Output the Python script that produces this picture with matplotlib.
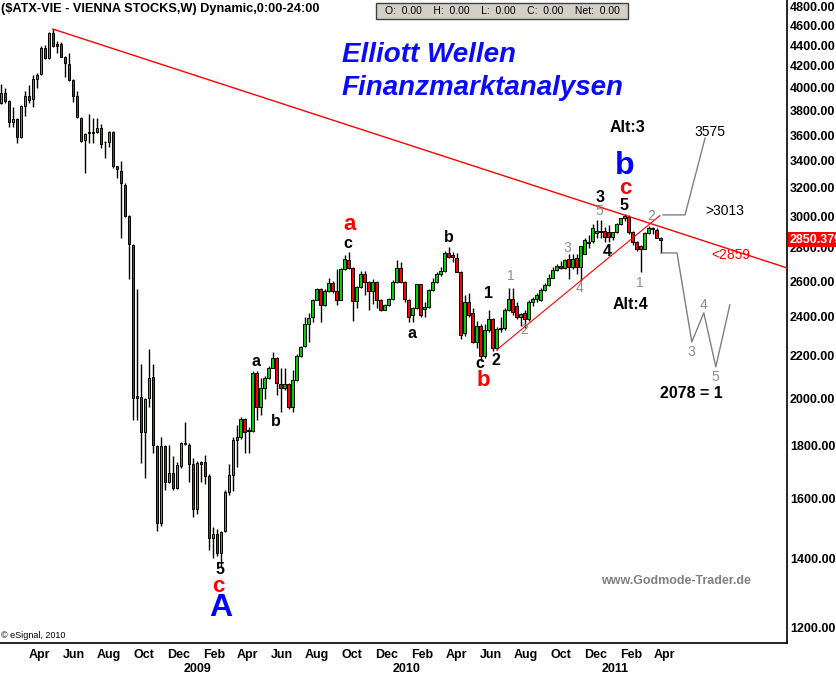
import numpy as np
import pandas as pd
import matplotlib
matplotlib.use("Agg")
import matplotlib.pyplot as plt
from matplotlib.ticker import FixedLocator, NullLocator, FuncFormatter
from matplotlib.patches import Rectangle
import matplotlib.transforms as mtransforms

plt.rcParams['font.family'] = ['Liberation Sans', 'DejaVu Sans']

# ---------------- data (weekly OHLC, ATX) ----------------
first_week = "2008-01-28"
opens = [3866, 3954, 3883, 3707, 3731, 3585, 3840, 3927, 3900, 4079,
         4125, 4371, 4274, 4519, 4410, 4410, 4284, 4216, 4070, 3927,
         3740, 3561, 3617, 3620, 3625, 3657, 3548, 3545, 3625, 3360,
         3322, 3221, 3006, 2818, 2004, 2008, 1858, 2004, 2100, 1800,
         1517, 1800, 1662, 1695, 1640, 1722, 1812, 1804, 1730, 1565,
         1735, 1735, 1685, 1467, 1480, 1418, 1490, 1625, 1688, 1825,
         1837, 1912, 1866, 1862, 2119, 1964, 2050, 2095, 2143, 2190,
         2068, 2050, 2068, 1964, 2086, 2200, 2250, 2365, 2400, 2494,
         2555, 2465, 2540, 2590, 2540, 2493, 2671, 2725, 2676, 2488,
         2566, 2643, 2597, 2543, 2597, 2493, 2438, 2465, 2500, 2597,
         2676, 2597, 2493, 2410, 2450, 2580, 2445, 2455, 2550, 2597,
         2640, 2660, 2768, 2755, 2737, 2653, 2316, 2482, 2420, 2270,
         2350, 2200, 2330, 2390, 2240, 2337, 2340, 2440, 2500, 2460,
         2400, 2420, 2390, 2482, 2500, 2493, 2549, 2575, 2620, 2665,
         2688, 2675, 2730, 2680, 2735, 2680, 2762, 2830, 2840, 2895,
         2905, 2905, 2900, 2870, 2900, 2952, 2990, 3000, 2900, 2835,
         2810, 2795, 2893, 2926, 2913, 2862]
highs = [4034, 3998, 3890, 3832, 3740, 3850, 3971, 4025, 4116, 4134,
         4390, 4400, 4530, 4560, 4440, 4430, 4290, 4322, 4075, 3971,
         3745, 3615, 3773, 3740, 3740, 3690, 3553, 3630, 3630, 3362,
         3400, 3236, 3010, 2822, 2555, 2162, 2005, 2235, 2162, 1805,
         1837, 1804, 1804, 1760, 1737, 1815, 1900, 1812, 1752, 1740,
         1740, 1765, 1690, 1503, 1497, 1490, 1630, 1730, 1837, 1885,
         1920, 1916, 1878, 2125, 2125, 2095, 2103, 2150, 2220, 2195,
         2143, 2143, 2072, 2130, 2210, 2250, 2400, 2420, 2500, 2560,
         2562, 2555, 2620, 2600, 2671, 2676, 2755, 2774, 2680, 2570,
         2660, 2660, 2600, 2610, 2600, 2500, 2470, 2505, 2605, 2725,
         2710, 2600, 2500, 2455, 2585, 2585, 2480, 2555, 2620, 2650,
         2680, 2780, 2805, 2775, 2768, 2660, 2520, 2530, 2450, 2380,
         2360, 2360, 2440, 2395, 2345, 2400, 2450, 2560, 2560, 2480,
         2420, 2440, 2490, 2510, 2530, 2560, 2590, 2640, 2680, 2700,
         2720, 2730, 2760, 2760, 2760, 2800, 2860, 2880, 2950, 2979,
         2979, 2935, 2945, 2900, 2960, 2990, 3020, 3013, 2905, 2840,
         2820, 2900, 2940, 2935, 2925, 2865]
lows = [3860, 3866, 3665, 3666, 3538, 3575, 3756, 3866, 3832, 3998,
        4116, 4265, 4265, 4380, 4322, 4280, 4098, 4060, 3875, 3740,
        3545, 3310, 3537, 3537, 3620, 3500, 3420, 3505, 3345, 3272,
        2862, 3000, 2612, 1908, 1908, 1733, 1677, 1964, 1772, 1490,
        1505, 1632, 1658, 1632, 1635, 1715, 1804, 1662, 1537, 1548,
        1660, 1655, 1428, 1402, 1408, 1375, 1485, 1615, 1628, 1718,
        1830, 1772, 1772, 1858, 1908, 1930, 2000, 2090, 2140, 2018,
        1943, 2040, 1955, 1943, 2080, 2195, 2245, 2270, 2373, 2490,
        2373, 2460, 2535, 2530, 2465, 2490, 2665, 2670, 2378, 2450,
        2560, 2520, 2438, 2470, 2450, 2430, 2435, 2460, 2495, 2590,
        2590, 2480, 2373, 2373, 2445, 2400, 2400, 2450, 2540, 2590,
        2630, 2655, 2737, 2715, 2650, 2285, 2300, 2400, 2265, 2240,
        2175, 2190, 2320, 2225, 2230, 2320, 2330, 2430, 2410, 2390,
        2350, 2340, 2380, 2460, 2480, 2485, 2545, 2570, 2615, 2660,
        2670, 2670, 2610, 2670, 2640, 2600, 2800, 2800, 2830, 2860,
        2860, 2835, 2835, 2850, 2895, 2945, 2975, 2890, 2820, 2780,
        2650, 2790, 2885, 2890, 2860, 2770]
closes = [3954, 3883, 3707, 3731, 3585, 3840, 3927, 3892, 4079, 4116,
          4371, 4274, 4519, 4390, 4390, 4284, 4226, 4070, 3927, 3748,
          3553, 3609, 3625, 3625, 3657, 3530, 3545, 3625, 3360, 3337,
          3236, 3006, 2824, 2004, 2010, 1858, 2000, 2095, 1804, 1517,
          1800, 1662, 1695, 1640, 1726, 1812, 1808, 1730, 1565, 1733,
          1730, 1685, 1467, 1480, 1418, 1487, 1625, 1688, 1825, 1837,
          1912, 1858, 1862, 2119, 1964, 2050, 2095, 2143, 2190, 2072,
          2050, 2068, 1964, 2086, 2200, 2245, 2365, 2394, 2494, 2555,
          2465, 2540, 2590, 2540, 2493, 2671, 2731, 2676, 2488, 2566,
          2643, 2597, 2543, 2597, 2493, 2438, 2465, 2500, 2597, 2676,
          2597, 2500, 2400, 2450, 2580, 2410, 2455, 2550, 2597, 2640,
          2660, 2768, 2743, 2743, 2653, 2305, 2482, 2410, 2270, 2350,
          2200, 2330, 2390, 2240, 2337, 2340, 2440, 2500, 2425, 2400,
          2415, 2390, 2482, 2500, 2520, 2549, 2575, 2620, 2665, 2688,
          2675, 2725, 2680, 2730, 2680, 2811, 2849, 2835, 2926, 2905,
          2900, 2870, 2870, 2900, 2952, 2990, 3005, 2900, 2835, 2795,
          2795, 2893, 2926, 2920, 2862, 2850]
last_price = 2850.379

# trend lines and projected wave path (week index, price)
resist_idx = [13, 196.6]
resist_px = [4560, 2677]
support_idx = [124, 164.8]
support_px = [2230, 3008]
bull_idx = [165.6, 171.1, 176.1]
bull_px = [3013, 3013, 3575]
bear_idx = [165.1, 169.1, 172.8, 175.8, 178.8, 182.3]
bear_px = [2768, 2768, 2270, 2422, 2147, 2465]

y_ticks = list(range(1200, 4801, 200))

# ---------------- figure ----------------
W, H = 836, 676
fig = plt.figure(figsize=(W / 100, H / 100), dpi=100)
ax_r, ax_b = 787, 643
ax = fig.add_axes([0, 1 - ax_b / H, ax_r / W, ax_b / H])

n = len(opens)
idx = np.arange(n)
o = np.array(opens, float); h = np.array(highs, float)
l = np.array(lows, float); c = np.array(closes, float)
up = c >= o

ax.vlines(idx, l, h, color='black', lw=1.0, zorder=2)
bottom = np.minimum(o, c)
height = np.maximum(np.abs(c - o), 1.0)
cols = np.where(up, '#00d000', '#ff0000')
ax.bar(idx, height, bottom=bottom, width=0.62, color=cols,
       edgecolor='black', linewidth=0.7, zorder=3)

ax.set_yscale('log')
ax.set_ylim(1160, 4865)
ax.set_xlim(-0.2, 196.6)

ax.plot(resist_idx, resist_px, color='#ff0000', lw=1.0, zorder=4)
ax.plot(support_idx, support_px, color='#ff0000', lw=0.8, zorder=4)
ax.plot(bull_idx, bull_px, color='#808080', lw=1.0, zorder=4)
ax.plot(bear_idx, bear_px, color='#808080', lw=1.0, zorder=4)

# axes styling
for s in ['left', 'top']:
    ax.spines[s].set_visible(False)
ax.spines['right'].set_linewidth(1.2)
ax.spines['bottom'].set_linewidth(1.2)
ax.yaxis.tick_right()
ax.yaxis.set_major_locator(FixedLocator(y_ticks))
ax.yaxis.set_minor_locator(NullLocator())
ax.yaxis.set_major_formatter(FuncFormatter(lambda v, p: f"{v:.2f}"))
ax.tick_params(axis='y', length=0, pad=2, labelsize=9)
for t in ax.get_yticklabels():
    t.set_fontweight('bold')

d0 = pd.Timestamp(first_week)
months = pd.date_range('2008-04-01', '2011-04-01', freq='2MS')
mpos = [(m - d0).days / 7 + 0.4 for m in months]
ax.xaxis.set_major_locator(FixedLocator(mpos))
ax.set_xticklabels([m.strftime('%b') for m in months], fontsize=9, fontweight='bold')
ax.xaxis.set_minor_locator(NullLocator())
ax.tick_params(axis='x', length=0, pad=4)
trans = mtransforms.blended_transform_factory(ax.transData, ax.transAxes)
for yr in [2009, 2010, 2011]:
    xp = (pd.Timestamp(f'{yr}-01-01') - d0).days / 7 + 0.8
    ax.text(xp, -0.040, str(yr), transform=trans, ha='center', va='center',
            fontsize=9, fontweight='bold', clip_on=False)

# last price tag
ax.text(1.003, last_price, f"{last_price:.3f}",
        transform=mtransforms.blended_transform_factory(ax.transAxes, ax.transData),
        ha='left', va='center', color='white', fontsize=9, fontweight='bold', clip_on=False,
        bbox=dict(boxstyle='square,pad=0.12', fc='#ff0000', ec='none'), zorder=10)


def put(x, y, s, **kw):
    kw.setdefault('ha', 'center')
    kw.setdefault('va', 'center')
    fig.text(x / W, 1 - y / H, s, **kw)


# header
put(1, 9, "($ATX-VIE - VIENNA STOCKS,W) Dynamic,0:00-24:00", ha='left',
    fontsize=9.2, fontweight='bold')
fig.patches.append(Rectangle((376 / W, 1 - 19 / H), 252 / W, 16 / H, transform=fig.transFigure,
                             fc='#d4d0c8', ec='#404040', lw=1.0))
put(502, 11, "O:  0.00    H:  0.00    L:  0.00    C:  0.00    Net:  0.00", fontsize=7.5)

put(342, 55, "Elliott Wellen", ha='left', fontsize=20, fontweight='bold',
    fontstyle='italic', color='#0a0aff')
put(342, 88, "Finanzmarktanalysen", ha='left', fontsize=20, fontweight='bold',
    fontstyle='italic', color='#0a0aff')

# wave labels
blk = dict(fontsize=11.5, fontweight='bold', color='black')
gry = dict(fontsize=10, color='#8c8c8c')
redL = dict(fontsize=16, fontweight='bold', color='#ff0000')
bluL = dict(fontsize=23, fontweight='bold', color='#0000ff')

put(220, 570, "5", **blk)
put(218, 586, "c", **redL)
put(221, 608, "A", **bluL)
put(256, 362, "a", **blk)
put(276, 422, "b", **blk)
put(350, 224, "a", **redL)
put(348, 243, "c", **blk)
put(412, 334, "a", **blk)
put(449, 237, "b", **blk)
put(488, 293, "1", **blk)
put(480, 363, "c", **blk)
put(496, 360, "2", **blk)
put(483, 380, "b", **redL)
put(511, 276, "1", **gry)
put(524, 330, "2", **gry)
put(567, 248, "3", **gry)
put(579, 288, "4", **gry)
put(599, 211, "5", **gry)
put(600, 197, "3", **blk)
put(624, 206, "5", **blk)
put(625, 188, "c", **redL)
put(625, 166, "b", **bluL)
put(607, 252, "4", **blk)
put(640, 283, "1", **gry)
put(651, 216, "2", **gry)
put(691, 352, "3", **gry)
put(703, 305, "4", **gry)
put(715, 377, "5", **gry)
put(627, 128, "Alt:3", **blk)
put(630, 304, "Alt:4", **blk)
put(691, 393, "2078 = 1", **blk)
put(710, 132, "3575", fontsize=10, color='black')
put(725, 211, ">3013", fontsize=10, color='black')
put(731, 255, "<2859", fontsize=10, color='#ff0000')
put(676, 581, "www.Godmode-Trader.de", fontsize=9, fontweight='bold', color='#808080')
put(1, 636, "\u00a9 eSignal, 2010", ha='left', fontsize=6.5, color='black')

fig.savefig("out.png", dpi=100, facecolor='white')
